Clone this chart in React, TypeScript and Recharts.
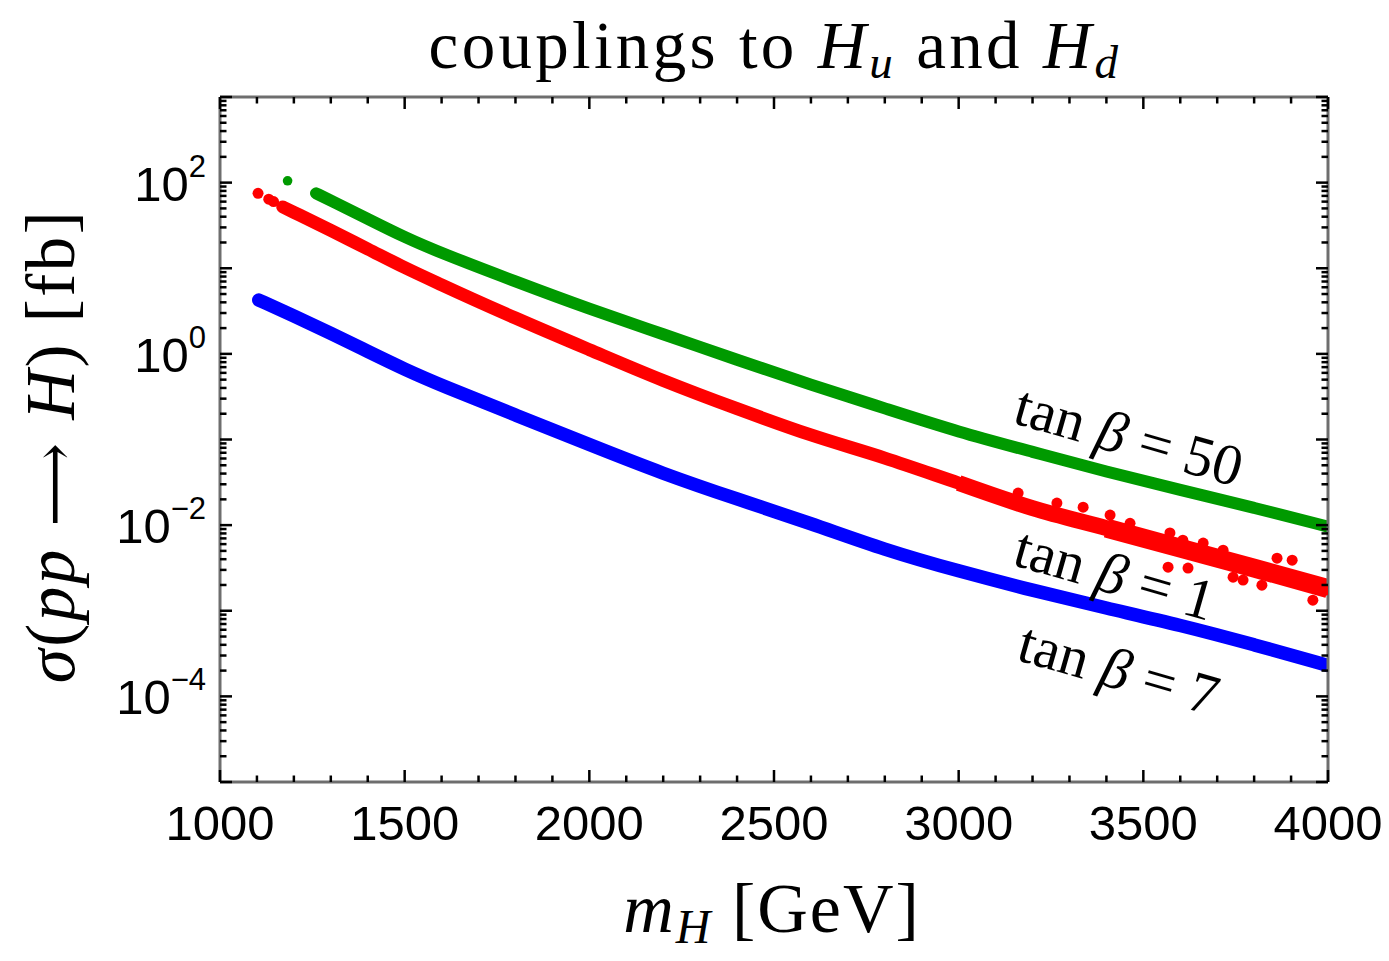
import React from 'react';
import { ComposedChart, Line, Scatter, XAxis, YAxis } from 'recharts';

// ---------- data ----------
// tan beta = 50 (green)
const massGreen = [1260, 1300, 1400, 1500, 1600, 1800, 2000, 2200, 2400, 2600, 2800, 3000, 3200, 3400, 3600, 3800, 4000];
const sigmaGreen = [75, 62, 37.8, 23, 15, 7.0, 3.34, 1.7, 0.85, 0.435, 0.231, 0.122, 0.0718, 0.042, 0.0257, 0.016, 0.0096];
const massGreenIsolated = [1183];
const sigmaGreenIsolated = [105];

// tan beta = 1 (red)
const massRed = [1170, 1200, 1300, 1400, 1500, 1600, 1800, 2000, 2200, 2400, 2600, 2800, 3000, 3200, 3400, 3600, 3800, 4000];
const sigmaRed = [52, 45, 27.7, 16.8, 10.2, 6.4, 2.62, 1.12, 0.489, 0.229, 0.113, 0.0607, 0.031, 0.0158, 0.00923, 0.00538, 0.00315, 0.00181];
const massRedSpread = [3000, 3200, 3400, 3600, 3800, 4000];
const sigmaRedSpread = [0.031, 0.0158, 0.00923, 0.00538, 0.00315, 0.00181];
const massRedWide = [3400, 3600, 3800, 4000];
const sigmaRedWide = [0.00923, 0.00538, 0.00315, 0.00181];
const massRedScatter = [1103, 1132, 1145, 3161, 3266, 3337, 3410, 3464, 3572, 3567, 3621, 3607, 3662, 3716, 3743, 3770, 3821, 3862, 3903, 3916, 3959, 3992];
const sigmaRedScatter = [75, 64, 60, 0.0237, 0.0181, 0.0162, 0.0131, 0.0105, 0.0081, 0.00323, 0.00315, 0.00668, 0.00617, 0.0051, 0.00247, 0.00228, 0.00199, 0.00411, 0.0039, 0.0024, 0.00133, 0.00174];

// tan beta = 7 (blue)
const massBlue = [1105, 1200, 1300, 1400, 1500, 1600, 1800, 2000, 2200, 2400, 2600, 2800, 3000, 3200, 3400, 3600, 3800, 4000];
const sigmaBlue = [4.25, 2.78, 1.74, 1.07, 0.66, 0.428, 0.193, 0.087, 0.0397, 0.0201, 0.0105, 0.00512, 0.0029, 0.00173, 0.00107, 0.000682, 0.000402, 0.00023];

// axis ticks
const xMinorTicks = Array.from({ length: 31 }, (_, i) => 1000 + i * 100);
const xLabelTicks = [1000, 1500, 2000, 2500, 3000, 3500, 4000];
const yDecades = [-5, -4, -3, -2, -1, 0, 1, 2, 3];
const yLabelExponents = [2, 0, -2, -4];

const seriesLabels = ['tan β = 50', 'tan β = 1', 'tan β = 7'];

// ---------- layout ----------
const W = 1389;
const H = 961;
const PLOT_LEFT = 220;
const PLOT_RIGHT = 1328;
const PLOT_TOP = 97;
const PLOT_BOTTOM = 782;
const FRAME = '#6e6e6e';
const SERIF = "'Liberation Serif', 'Times New Roman', serif";
const SANS = "'Liberation Sans', Arial, sans-serif";
const GREEN = '#009a00';
const RED = '#ff0000';
const BLUE = '#0000ff';

const zip = (m: number[], s: number[]) => m.map((v, i) => ({ m: v, s: s[i] }));
const greenData = zip(massGreen, sigmaGreen);
const greenIso = zip(massGreenIsolated, sigmaGreenIsolated);
const redData = zip(massRed, sigmaRed);
const redSpread = zip(massRedSpread, sigmaRedSpread);
const redWide = zip(massRedWide, sigmaRedWide);
const redScatter = zip(massRedScatter, sigmaRedScatter);
const blueData = zip(massBlue, sigmaBlue);

const yTicks: number[] = [];
yDecades.forEach((e) => {
  const ks = e === 3 ? [1] : [1, 2, 3, 4, 5, 6, 7, 8, 9];
  ks.forEach((k) => yTicks.push(k * Math.pow(10, e)));
});

const XTick = (props: any) => {
  const { x, payload } = props;
  const v = payload.value as number;
  const major = v % 500 === 0;
  const len = major ? 12 : 6.5;
  return (
    <g>
      <line x1={x} x2={x} y1={PLOT_BOTTOM} y2={PLOT_BOTTOM - len} stroke="#000" strokeWidth={2.5} />
      <line x1={x} x2={x} y1={PLOT_TOP} y2={PLOT_TOP + len} stroke="#000" strokeWidth={2.5} />
      {xLabelTicks.includes(v) && (
        <text x={x} y={840} textAnchor="middle" fontFamily={SANS} fontSize={49} fill="#000">
          {v}
        </text>
      )}
    </g>
  );
};

const YTick = (props: any) => {
  const { y, payload } = props;
  const v = payload.value as number;
  const e = Math.floor(Math.log10(v) + 1e-9);
  const k = Math.round(v / Math.pow(10, e));
  const major = k === 1;
  const len = major ? 12 : 6.5;
  const showLabel = major && yLabelExponents.includes(e);
  const expText = e < 0 ? '\u2212' + Math.abs(e) : String(e);
  return (
    <g>
      <line x1={PLOT_LEFT} x2={PLOT_LEFT + len} y1={y} y2={y} stroke="#000" strokeWidth={2.5} />
      <line x1={PLOT_RIGHT} x2={PLOT_RIGHT - len} y1={y} y2={y} stroke="#000" strokeWidth={2.5} />
      {showLabel && (
        <text x={206} y={y + 18} textAnchor="end" fontFamily={SANS} fontSize={49} fill="#000">
          10
          <tspan fontSize={31} dy={-24}>
            {expText}
          </tspan>
        </text>
      )}
    </g>
  );
};

const dot = (color: string, r: number) => (p: any) => <circle cx={p.cx} cy={p.cy} r={r} fill={color} />;

const band = (
  data: any[],
  color: string,
  width: number,
  curve: 'basis' | 'monotone' = 'basis',
  cap: 'round' | 'butt' = 'round'
) => (
  <Line
    xAxisId="b"
    yAxisId="l"
    data={data}
    dataKey="s"
    type={curve}
    stroke={color}
    strokeWidth={width}
    strokeLinecap={cap}
    strokeLinejoin="round"
    dot={false}
    activeDot={false}
    isAnimationActive={false}
  />
);

export default function App() {
  return (
    <div style={{ position: 'absolute', left: 0, top: 0, width: W, height: H, background: '#fff' }}>
      <ComposedChart
        width={W}
        height={H}
        margin={{ top: PLOT_TOP - 7, right: W - PLOT_RIGHT - 11, bottom: H - PLOT_BOTTOM - 60, left: PLOT_LEFT - 120 }}
      >
        <XAxis
          xAxisId="b"
          dataKey="m"
          type="number"
          domain={[1000, 4000]}
          allowDataOverflow
          ticks={xMinorTicks}
          interval={0}
          tick={<XTick />}
          tickLine={false}
          height={60}
          axisLine={{ stroke: FRAME, strokeWidth: 3 }}
        />
        <XAxis
          xAxisId="t"
          orientation="top"
          type="number"
          domain={[1000, 4000]}
          allowDataOverflow
          tick={false}
          tickLine={false}
          height={7}
          axisLine={{ stroke: FRAME, strokeWidth: 3 }}
        />
        <YAxis
          yAxisId="l"
          type="number"
          scale="log"
          domain={[1e-5, 1e3]}
          allowDataOverflow
          ticks={yTicks}
          interval={0}
          tick={<YTick />}
          tickLine={false}
          width={120}
          axisLine={{ stroke: FRAME, strokeWidth: 3 }}
        />
        <YAxis
          yAxisId="r"
          orientation="right"
          type="number"
          scale="log"
          domain={[1e-5, 1e3]}
          allowDataOverflow
          tick={false}
          tickLine={false}
          width={11}
          axisLine={{ stroke: FRAME, strokeWidth: 3 }}
        />
        {band(blueData, BLUE, 13.5)}
        {band(redData, RED, 13, 'monotone')}
        {band(redSpread, RED, 16, 'monotone', 'butt')}
        {band(redWide, RED, 19, 'monotone', 'butt')}
        <Scatter
          xAxisId="b"
          yAxisId="l"
          data={redScatter}
          dataKey="s"
          shape={dot(RED, 5.5)}
          isAnimationActive={false}
        />
        {band(greenData, GREEN, 12)}
        <Scatter
          xAxisId="b"
          yAxisId="l"
          data={greenIso}
          dataKey="s"
          shape={dot(GREEN, 4.8)}
          isAnimationActive={false}
        />
      </ComposedChart>
      <svg width={W} height={H} style={{ position: 'absolute', left: 0, top: 0, pointerEvents: 'none' }}>
        <text x={775} y={68} textAnchor="middle" fontFamily={SERIF} fontSize={67} letterSpacing={3.3} fill="#000">
          {'couplings to '}
          <tspan fontStyle="italic">H</tspan>
          <tspan fontStyle="italic" fontSize={47} dy={10}>u</tspan>
          <tspan dy={-10}>{' and '}</tspan>
          <tspan fontStyle="italic">H</tspan>
          <tspan fontStyle="italic" fontSize={47} dy={10}>d</tspan>
        </text>
        <text x={772} y={932} textAnchor="middle" fontFamily={SERIF} fontSize={70} letterSpacing={2} fill="#000">
          <tspan fontStyle="italic">m</tspan>
          <tspan fontStyle="italic" fontSize={48} dy={11}>H</tspan>
          <tspan dy={-11}>{'  [GeV]'}</tspan>
        </text>
        <text
          x={74}
          y={446}
          transform="rotate(-90 74 446)"
          textAnchor="middle"
          fontFamily={SERIF}
          fontSize={69}
          letterSpacing={2.5}
          fill="#000"
        >
          <tspan fontStyle="italic">σ</tspan>
          {'('}
          <tspan fontStyle="italic">pp</tspan>
          <tspan fontFamily="'DejaVu Serif', serif" fontSize={58}>{' ⟶ '}</tspan>
          <tspan fontStyle="italic">H</tspan>
          {')  [fb]'}
        </text>
        {[
          { cx: 1129, cy: 436, a: 16 },
          { cx: 1115, cy: 574, a: 16 },
          { cx: 1119, cy: 669, a: 16 },
        ].map((p, i) => {
          const parts = seriesLabels[i].split('β');
          return (
            <text
              key={i}
              x={p.cx}
              y={p.cy}
              transform={`rotate(${p.a} ${p.cx} ${p.cy})`}
              textAnchor="middle"
              dominantBaseline="central"
              fontFamily={SERIF}
              fontSize={58}
              fill="#000"
            >
              {parts[0]}
              <tspan fontStyle="italic">β</tspan>
              {parts[1]}
            </text>
          );
        })}
      </svg>
    </div>
  );
}
